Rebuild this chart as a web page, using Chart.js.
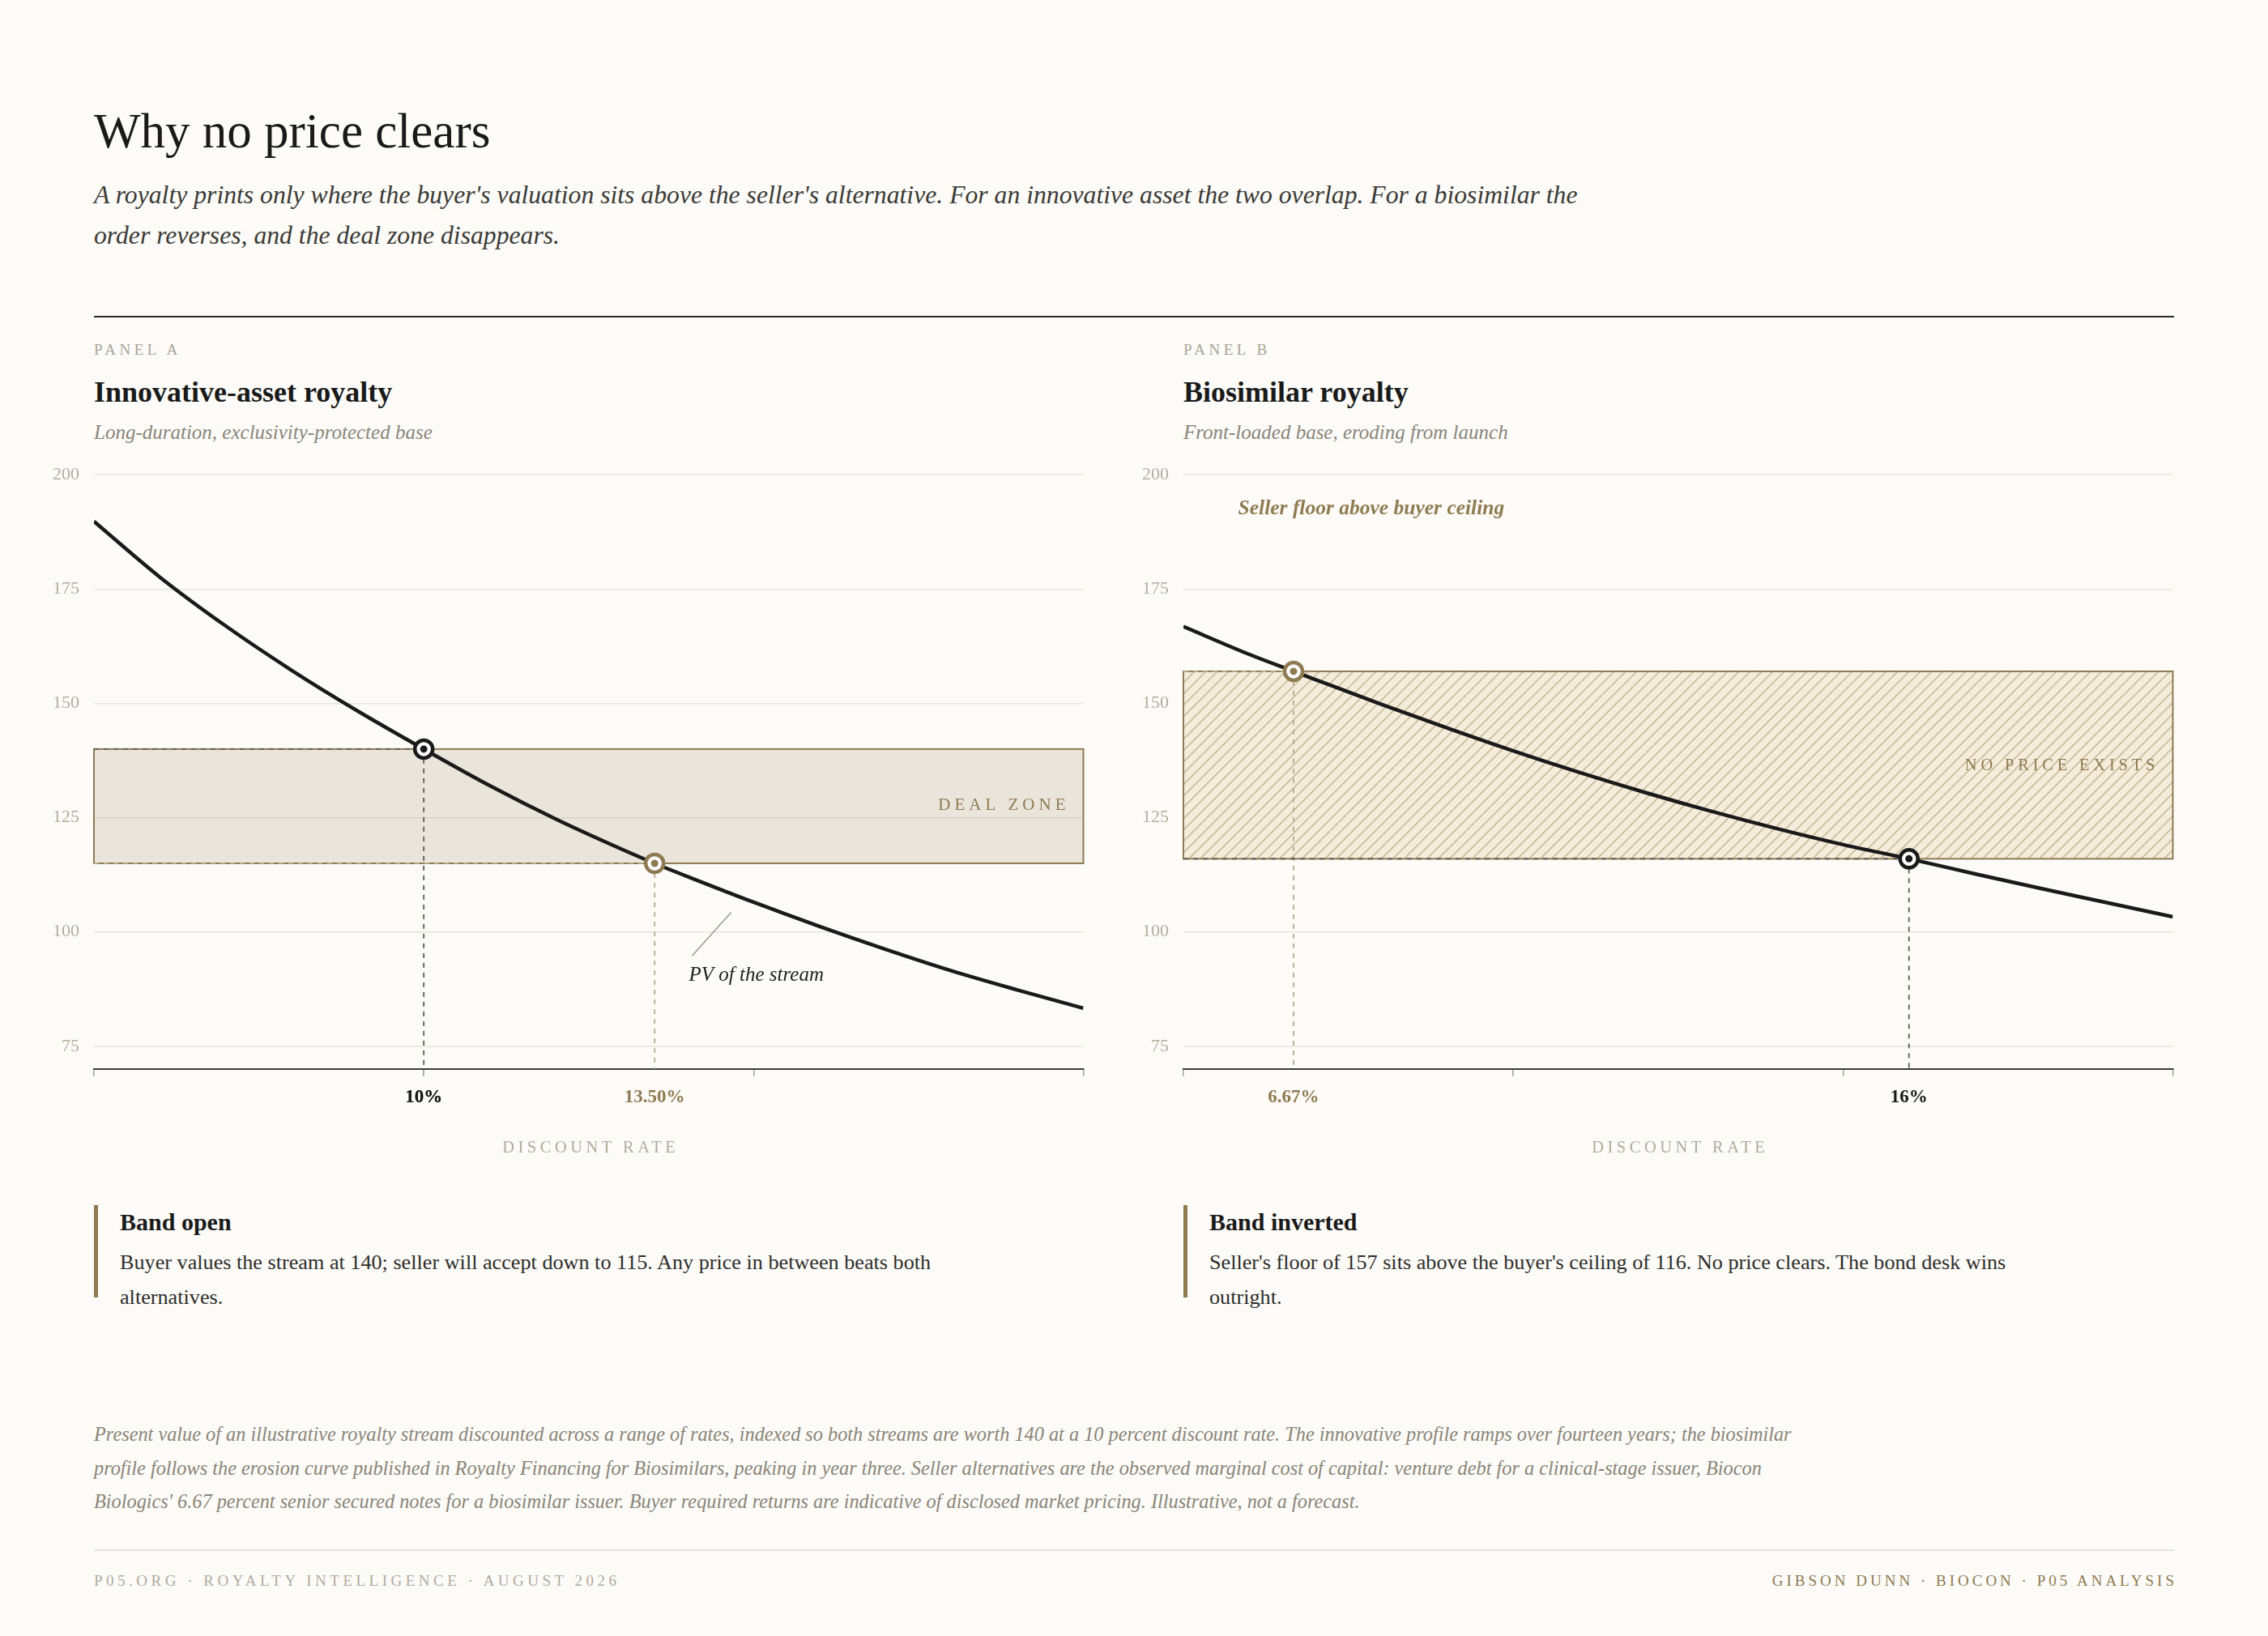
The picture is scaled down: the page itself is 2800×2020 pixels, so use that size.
<!DOCTYPE html>
<html>
<head>
<meta charset="utf-8">
<script src="https://cdn.jsdelivr.net/npm/chart.js@4.4.1/dist/chart.umd.min.js"></script>
<style>
html, body { margin: 0; padding: 0; background: #fcfbf7; }
body { width: 2800px; height: 2020px; position: relative; overflow: hidden; font-family: 'Liberation Serif', serif; color: #1a1a1a; }
.abs { position: absolute; white-space: nowrap; }
.title { left: 116px; top: 127px; font-size: 61px; line-height: 70px; }
.dek { left: 116px; top: 216px; font-size: 31.7px; line-height: 50px; font-style: italic; color: #3b3a36; }
.rule { left: 116px; width: 2568px; top: 390px; height: 2px; background: #2a2a2a; }
.kicker { top: 420px; font-size: 19px; line-height: 24px; letter-spacing: 4.5px; color: #aaa498; }
.ptitle { top: 462px; font-size: 36px; line-height: 44px; font-weight: bold; }
.psub { top: 517px; font-size: 25px; line-height: 34px; font-style: italic; color: #8a857a; }
.axt { top: 1404px; font-size: 20.5px; line-height: 24px; letter-spacing: 4.5px; color: #b1ab9f; transform: translateX(-50%); padding-left: 4.5px; }
.bar { top: 1488px; width: 5px; height: 114px; background: #8f7b52; }
.ntitle { top: 1490px; font-size: 30px; line-height: 38px; font-weight: bold; }
.nbody { top: 1537px; font-size: 26.2px; line-height: 43px; color: #2e2d2a; }
.foot { left: 116px; top: 1750px; font-size: 24.3px; line-height: 41.5px; font-style: italic; color: #8a8478; }
.frule { left: 116px; width: 2568px; top: 1913px; height: 2px; background: #e4e1d8; }
.credit { top: 1940px; font-size: 19px; line-height: 24px; letter-spacing: 4.5px; color: #b1ab9f; }
canvas { position: absolute; }
</style>
</head>
<body>
<div class="abs title">Why no price clears</div>
<div class="abs dek">A royalty prints only where the buyer's valuation sits above the seller's alternative. For an innovative asset the two overlap. For a biosimilar the<br>order reverses, and the deal zone disappears.</div>
<div class="abs rule"></div>

<div class="abs kicker" style="left:116px">PANEL A</div>
<div class="abs ptitle" style="left:116px">Innovative-asset royalty</div>
<div class="abs psub" style="left:116px">Long-duration, exclusivity-protected base</div>

<div class="abs kicker" style="left:1461px">PANEL B</div>
<div class="abs ptitle" style="left:1461px">Biosimilar royalty</div>
<div class="abs psub" style="left:1461px">Front-loaded base, eroding from launch</div>

<canvas id="chartA" width="1313" height="885" style="left:40px;top:555px;width:1313px;height:885px"></canvas>
<canvas id="chartB" width="1313" height="885" style="left:1385px;top:555px;width:1313px;height:885px"></canvas>

<div class="abs axt" style="left:727px">DISCOUNT RATE</div>
<div class="abs axt" style="left:2072px">DISCOUNT RATE</div>

<div class="abs bar" style="left:116px"></div>
<div class="abs ntitle" style="left:148px">Band open</div>
<div class="abs nbody" style="left:148px">Buyer values the stream at 140; seller will accept down to 115. Any price in between beats both<br>alternatives.</div>

<div class="abs bar" style="left:1461px"></div>
<div class="abs ntitle" style="left:1493px">Band inverted</div>
<div class="abs nbody" style="left:1493px">Seller's floor of 157 sits above the buyer's ceiling of 116. No price clears. The bond desk wins<br>outright.</div>

<div class="abs foot">Present value of an illustrative royalty stream discounted across a range of rates, indexed so both streams are worth 140 at a 10 percent discount rate. The innovative profile ramps over fourteen years; the biosimilar<br>profile follows the erosion curve published in Royalty Financing for Biosimilars, peaking in year three. Seller alternatives are the observed marginal cost of capital: venture debt for a clinical-stage issuer, Biocon<br>Biologics' 6.67 percent senior secured notes for a biosimilar issuer. Buyer required returns are indicative of disclosed market pricing. Illustrative, not a forecast.</div>
<div class="abs frule"></div>
<div class="abs credit" style="left:116px">P05.ORG · ROYALTY INTELLIGENCE · AUGUST 2026</div>
<div class="abs credit" style="right:112px;letter-spacing:4px;color:#8f7b52">GIBSON DUNN · BIOCON · P05 ANALYSIS</div>

<script>
// discount rate (%) -> present value
const ratesA = [5, 6, 7, 8, 9, 10, 11, 12, 13, 13.5, 14, 15, 16, 17, 18, 19, 20];
const pvA = [189.8, 177.6, 166.9, 157.2, 148.3, 140, 132.0, 124.7, 118.1, 115, 112.1, 106.5, 101.2, 96.2, 91.5, 87.3, 83.3];
const ratesB = [5, 6, 6.67, 7, 8, 9, 10, 11, 12, 13, 14, 15, 16, 17, 18, 19, 20];
const pvB = [166.8, 160.7, 157, 155.2, 149.8, 144.6, 139.6, 134.9, 130.5, 126.4, 122.6, 119.1, 116, 112.7, 109.5, 106.4, 103.3];

const yTicks = [75, 100, 125, 150, 175, 200];
const xTickMarks = [5, 10, 15, 20];

// marked rates: buyer valuation / seller alternative
const markRatesA = [10, 13.5];
const markValuesA = [140, 115];
const markLabelsA = ['10%', '13.50%'];
const markRolesA = ['buyer', 'seller'];
const markRatesB = [6.67, 16];
const markValuesB = [157, 116];
const markLabelsB = ['6.67%', '16%'];
const markRolesB = ['seller', 'buyer'];

const bandA = [115, 140];
const bandB = [116, 157];

const INK = '#1a1a1a';
const GOLD = '#8f7b52';
const SERIF = "'Liberation Serif', serif";

Chart.defaults.font.family = SERIF;

function roleColor(role) {
    return role === 'buyer' ? INK : GOLD;
}

function caps(ctx, text, x, y, size, spacing, color, align) {
    ctx.font = size + 'px ' + SERIF;
    ctx.letterSpacing = spacing + 'px';
    ctx.fillStyle = color;
    ctx.textAlign = align;
    ctx.textBaseline = 'middle';
    // trailing spacing shifts right-aligned text, compensate
    ctx.fillText(text, align === 'right' ? x + spacing : x, y);
    ctx.letterSpacing = '0px';
}

function panelPlugin(p) {
    return {
        id: 'panel',
        beforeDatasetsDraw(chart) {
            const { ctx, chartArea: a, scales: { x, y } } = chart;
            const top = y.getPixelForValue(p.band[1]);
            const bot = y.getPixelForValue(p.band[0]);
            ctx.save();
            ctx.fillStyle = p.hatched ? '#f5eddb' : 'rgba(143,123,82,0.17)';
            ctx.fillRect(a.left, top, a.right - a.left, bot - top);
            if (p.hatched) {
                ctx.save();
                ctx.beginPath();
                ctx.rect(a.left, top, a.right - a.left, bot - top);
                ctx.clip();
                ctx.strokeStyle = '#c7b898';
                ctx.lineWidth = 1.5;
                const h = bot - top;
                for (let sx = a.left - h; sx < a.right + 14; sx += 14) {
                    ctx.beginPath();
                    ctx.moveTo(sx, bot);
                    ctx.lineTo(sx + h, top);
                    ctx.stroke();
                }
                ctx.restore();
            }
            ctx.strokeStyle = GOLD;
            ctx.lineWidth = 2;
            ctx.strokeRect(a.left, top, a.right - a.left, bot - top);

            // guide lines from each marked point
            p.markRates.forEach((r, i) => {
                const px = x.getPixelForValue(r);
                const py = y.getPixelForValue(p.markValues[i]);
                const buyer = p.markRoles[i] === 'buyer';
                ctx.setLineDash([6, 6]);
                ctx.lineWidth = 1.8;
                ctx.strokeStyle = buyer ? '#5f5b54' : '#b9ab8e';
                ctx.beginPath();
                ctx.moveTo(a.left, py);
                ctx.lineTo(px, py);
                ctx.stroke();
                ctx.beginPath();
                ctx.moveTo(px, py);
                ctx.lineTo(px, a.bottom);
                ctx.stroke();
            });
            ctx.restore();
        },
        afterDatasetsDraw(chart) {
            const { ctx, chartArea: a, scales: { x, y } } = chart;
            ctx.save();
            caps(ctx, p.bandLabel, a.right - 22, y.getPixelForValue(p.bandLabelY), p.bandLabelSize, p.bandLabelSpacing, GOLD, 'right');
            if (p.leader) {
                ctx.strokeStyle = '#9d988d';
                ctx.lineWidth = 1.5;
                ctx.beginPath();
                ctx.moveTo(x.getPixelForValue(p.leader[0]), y.getPixelForValue(p.leader[1]));
                ctx.lineTo(x.getPixelForValue(p.leader[2]), y.getPixelForValue(p.leader[3]));
                ctx.stroke();
            }
            ctx.font = p.noteFont + ' ' + SERIF;
            ctx.fillStyle = p.noteColor;
            ctx.textAlign = 'left';
            ctx.textBaseline = 'middle';
            ctx.fillText(p.note, x.getPixelForValue(p.noteAt[0]), y.getPixelForValue(p.noteAt[1]));
            ctx.restore();
        }
    };
}

function makePanel(id, rates, pv, p) {
    const curve = rates.map((r, i) => ({ x: r, y: pv[i] }));
    const dots = p.markRates.map((r, i) => ({ x: r, y: p.markValues[i] }));
    const dotColors = p.markRoles.map(roleColor);
    const xTicks = xTickMarks.concat(p.markRates).sort((a, b) => a - b);

    return new Chart(document.getElementById(id), {
        type: 'line',
        data: {
            datasets: [
                { type: 'scatter', data: dots, pointRadius: 4.5, pointBackgroundColor: dotColors, pointBorderWidth: 0, order: 0 },
                { type: 'scatter', data: dots, pointRadius: 11, pointBackgroundColor: '#ffffff', pointBorderColor: dotColors, pointBorderWidth: 4.5, order: 1 },
                { data: curve, borderColor: INK, borderWidth: 4.5, pointRadius: 0, tension: 0.4, cubicInterpolationMode: 'monotone', order: 2 }
            ]
        },
        options: {
            responsive: false,
            animation: false,
            events: [],
            layout: { padding: { top: 13, right: 4, left: 0, bottom: 0 } },
            plugins: { legend: { display: false }, tooltip: { enabled: false } },
            scales: {
                x: {
                    type: 'linear', min: 5, max: 20,
                    afterBuildTicks: s => { s.ticks = xTicks.map(v => ({ value: v })); },
                    afterFit: s => { s.height = 120; },
                    ticks: {
                        autoSkip: false, maxRotation: 0, padding: 12,
                        font: { size: 23, weight: 'bold' },
                        color: c => {
                            const i = p.markRates.indexOf(c.tick.value);
                            return i >= 0 ? roleColor(p.markRoles[i]) : INK;
                        },
                        callback: v => {
                            const i = p.markRates.indexOf(v);
                            return i >= 0 ? p.markLabels[i] : '';
                        }
                    },
                    grid: {
                        drawOnChartArea: false, drawTicks: true, tickLength: 9, lineWidth: 1.5,
                        tickColor: c => xTickMarks.includes(c.tick.value) ? '#a9a396' : 'rgba(0,0,0,0)'
                    },
                    border: { display: true, color: '#3b3b3b', width: 2 }
                },
                y: {
                    min: 70, max: 200,
                    afterBuildTicks: s => { s.ticks = yTicks.map(v => ({ value: v })); },
                    afterFit: s => { s.width = 76; },
                    ticks: { color: '#b3ada1', font: { size: 22 }, padding: 18 },
                    grid: { color: '#e8e5dc', lineWidth: 1.5, drawTicks: false },
                    border: { display: false }
                }
            }
        },
        plugins: [panelPlugin(p)]
    });
}

makePanel('chartA', ratesA, pvA, {
    markRates: markRatesA, markValues: markValuesA, markLabels: markLabelsA, markRoles: markRolesA,
    band: bandA, hatched: false,
    bandLabel: 'DEAL ZONE', bandLabelY: 127.6, bandLabelSize: 21, bandLabelSpacing: 5,
    leader: [14.66, 104.3, 14.07, 94.8],
    note: 'PV of the stream', noteAt: [14.02, 90.4], noteFont: 'italic 25px', noteColor: '#1f1f1f'
});

makePanel('chartB', ratesB, pvB, {
    markRates: markRatesB, markValues: markValuesB, markLabels: markLabelsB, markRoles: markRolesB,
    band: bandB, hatched: true,
    bandLabel: 'NO PRICE EXISTS', bandLabelY: 136.4, bandLabelSize: 20.5, bandLabelSpacing: 4.8,
    leader: null,
    note: 'Seller floor above buyer ceiling', noteAt: [5.83, 192.5], noteFont: 'italic bold 25.5px', noteColor: GOLD
});
</script>
</body>
</html>
